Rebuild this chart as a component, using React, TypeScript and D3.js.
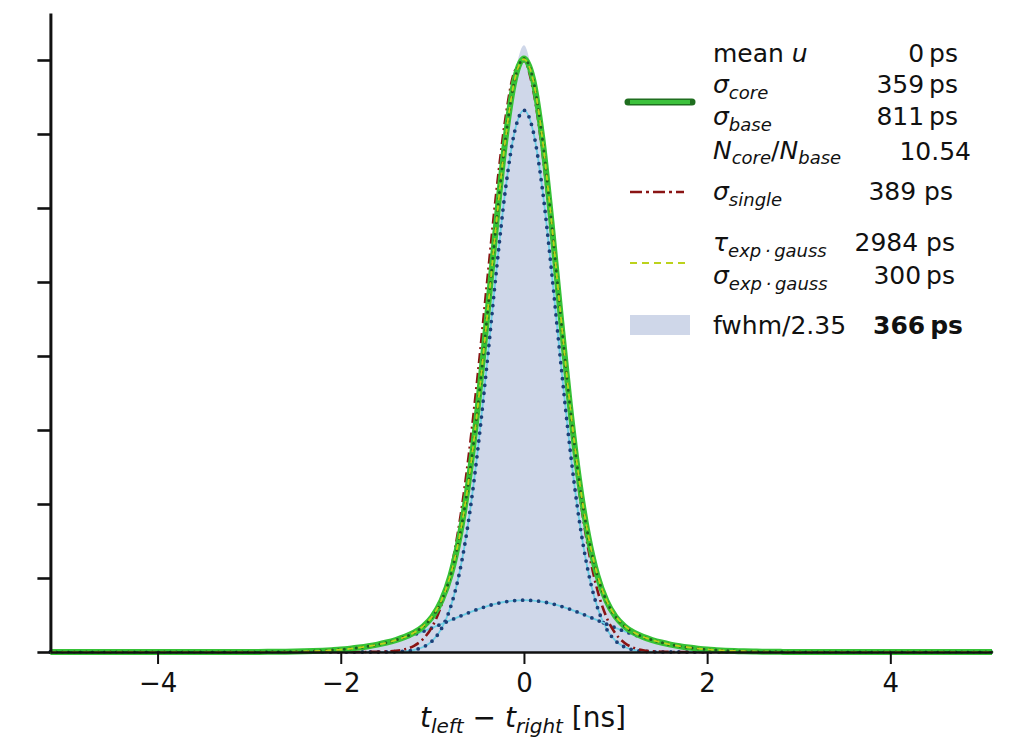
import React, { useRef, useEffect } from "react";
import * as d3 from "d3";

// sample positions in ns
const tGrid = [
  -3.0, -2.9, -2.8, -2.7, -2.6, -2.5, -2.4, -2.3, -2.2, -2.1, -2.0, -1.9, -1.8, -1.7, -1.6, -1.5,
  -1.4, -1.3, -1.2, -1.1, -1.0, -0.9, -0.8, -0.7, -0.6, -0.5, -0.4, -0.3, -0.2, -0.1, 0.0,
  0.1, 0.2, 0.3, 0.4, 0.5, 0.6, 0.7, 0.8, 0.9, 1.0, 1.1, 1.2, 1.3, 1.4, 1.5, 1.6, 1.7, 1.8,
  1.9, 2.0, 2.1, 2.2, 2.3, 2.4, 2.5, 2.6, 2.7, 2.8, 2.9, 3.0,
];

// histogram counts
const histCounts = [
  0, 1, 2, 3, 4, 6, 9, 12, 17, 24, 32, 44, 58, 77, 98, 125,
  160, 200, 255, 340, 470, 690, 1050, 1600, 2380, 3400, 4600, 5850, 6980, 7800, 8200,
  7760, 6930, 5790, 4520, 3330, 2320, 1560, 1030, 690, 480, 345, 262, 205, 163, 129, 101, 79, 61,
  46, 34, 25, 18, 13, 9, 6, 4, 3, 2, 1, 0,
];

// double gauss total
const totalFit = [
  1, 1, 2, 3, 4, 6, 9, 13, 18, 25, 33, 45, 60, 78, 100, 128,
  162, 204, 261, 346, 478, 694, 1041, 1576, 2344, 3355, 4555, 5817, 6947, 7736, 8020,
  7736, 6947, 5817, 4555, 3355, 2344, 1576, 1041, 694, 478, 346, 261, 204, 162, 128, 100, 78, 60,
  45, 33, 25, 18, 13, 9, 6, 4, 3, 2, 1, 1,
];

// core gauss component
const coreFit = [
  0, 0, 0, 0, 0, 0, 0, 0, 0, 0, 0, 0, 0, 0, 0, 1,
  4, 10, 27, 67, 151, 316, 611, 1094, 1812, 2776, 3935, 5163, 6268, 7041, 7320,
  7041, 6268, 5163, 3935, 2776, 1812, 1094, 611, 316, 151, 67, 27, 10, 4, 1, 0, 0, 0,
  0, 0, 0, 0, 0, 0, 0, 0, 0, 0, 0, 0,
];

// base gauss component
const baseFit = [
  1, 1, 2, 3, 4, 6, 9, 13, 18, 25, 33, 45, 60, 78, 100, 127,
  158, 194, 234, 279, 327, 378, 430, 482, 532, 579, 620, 654, 679, 695, 700,
  695, 679, 654, 620, 579, 532, 482, 430, 378, 327, 279, 234, 194, 158, 127, 100, 78, 60,
  45, 33, 25, 18, 13, 9, 6, 4, 3, 2, 1, 1,
];

// single gauss
const singleFit = [
  0, 0, 0, 0, 0, 0, 0, 0, 0, 0, 0, 0, 0, 1, 2, 6,
  15, 37, 84, 176, 346, 638, 1100, 1776, 2684, 3796, 5027, 6231, 7230, 7853, 7984,
  7598, 6768, 5643, 4405, 3218, 2201, 1409, 844, 473, 249, 122, 56, 24, 10, 4, 1, 0, 0,
  0, 0, 0, 0, 0, 0, 0, 0, 0, 0, 0, 0,
];

// exp * gauss
const expGaussFit = [
  0, 1, 1, 2, 3, 5, 8, 12, 17, 24, 32, 44, 59, 77, 99, 127,
  161, 203, 262, 350, 485, 702, 1050, 1585, 2350, 3360, 4560, 5820, 6950, 7740, 8010,
  7730, 6950, 5825, 4565, 3370, 2358, 1590, 1052, 703, 486, 352, 265, 206, 164, 130, 102, 80, 62,
  47, 35, 26, 19, 14, 10, 7, 5, 3, 2, 1, 1,
];

const xTicks = [-4, -2, 0, 2, 4];
const yTicks = [0, 1000, 2000, 3000, 4000, 5000, 6000, 7000, 8000];
const tRange = [-5.17, 5.11];

const FONT = "DejaVu Sans";

const App = () => {
  const xAxisRef = useRef(null);
  const yAxisRef = useRef(null);

  const x = d3.scaleLinear().domain(tRange).range([50.4, 992]);
  const y = d3.scaleLinear().domain([0, 8635]).range([652, 13]);

  const pts = (vals) => [
    [tRange[0], 0],
    ...tGrid.map((t, i) => [t, vals[i]]),
    [tRange[1], 0],
  ];

  const line = d3.line().x(d => x(d[0])).y(d => y(d[1])).curve(d3.curveMonotoneX);
  const area = d3.area().x(d => x(d[0])).y0(y(0)).y1(d => y(d[1])).curve(d3.curveMonotoneX);

  useEffect(() => {
    const gx = d3.select(xAxisRef.current);
    gx.selectAll("*").remove();
    gx.call(d3.axisBottom(x).tickValues(xTicks).tickSize(12).tickSizeOuter(0).tickPadding(10));
    gx.select(".domain").attr("stroke", "#111").attr("stroke-width", 2.6);
    gx.selectAll(".tick line").attr("stroke", "#111").attr("stroke-width", 2);
    gx.selectAll(".tick text")
      .attr("fill", "#111")
      .style("font-family", FONT)
      .style("font-size", "26px");

    const gy = d3.select(yAxisRef.current);
    gy.selectAll("*").remove();
    gy.call(d3.axisLeft(y).tickValues(yTicks).tickSize(13).tickSizeOuter(0).tickFormat(() => ""));
    gy.select(".domain").attr("stroke", "#111").attr("stroke-width", 3);
    gy.selectAll(".tick line").attr("stroke", "#111").attr("stroke-width", 2.6);
  }, []);

  const dottedBlue = (vals, key) => (
    <g key={key}>
      <path d={line(pts(vals))} fill="none" stroke="#6fcfe6" strokeWidth={1.8} />
      <path
        d={line(pts(vals))}
        fill="none"
        stroke="#1d3f78"
        strokeWidth={3.8}
        strokeLinecap="round"
        strokeDasharray="0 8"
      />
    </g>
  );

  const sub = (s, size = 18) => (
    <>
      <tspan fontSize={size} dy={6}>{s}</tspan>
      <tspan dy={-6}>{"\u200a"}</tspan>
    </>
  );

  const legendText = { fontFamily: FONT, fontSize: 25, fill: "#111" };

  return (
    <svg
      width={1013}
      height={751}
      style={{ position: "absolute", left: 0, top: 0, background: "#fff" }}
    >
      {/* histogram */}
      <path d={area(pts(histCounts))} fill="#cfd7e9" />

      {/* components */}
      {dottedBlue(coreFit, "core")}
      {dottedBlue(baseFit, "base")}

      {/* single gauss */}
      <path
        d={line(pts(singleFit))}
        fill="none"
        stroke="#8a1414"
        strokeWidth={2.6}
        strokeDasharray="10 4 2 4"
      />

      {/* double gauss */}
      <path d={line(pts(totalFit))} fill="none" stroke="#36c236" strokeWidth={6} />
      <path
        d={line(pts(totalFit))}
        fill="none"
        stroke="#1e5e1e"
        strokeWidth={3}
        strokeLinecap="round"
        strokeDasharray="0 6"
      />

      {/* exp gauss */}
      <path
        d={line(pts(expGaussFit))}
        fill="none"
        stroke="#bcd21c"
        strokeWidth={1.8}
        strokeDasharray="6 5"
      />

      <g ref={xAxisRef} transform={`translate(0,${y(0)})`} />
      <g ref={yAxisRef} transform={`translate(${x(tRange[0])},0)`} />

      {/* x label */}
      <text x={523} y={727} textAnchor="middle" style={{ fontFamily: FONT, fontSize: 28, fill: "#111" }}>
        <tspan fontStyle="italic">t</tspan>
        <tspan fontStyle="italic" fontSize={20} dy={6}>left</tspan>
        <tspan dy={-6}>{" \u2212 "}</tspan>
        <tspan fontStyle="italic">t</tspan>
        <tspan fontStyle="italic" fontSize={20} dy={6}>right</tspan>
        <tspan dy={-6}>{" [ns]"}</tspan>
      </text>

      {/* legend handles */}
      <line x1={628} x2={692} y1={102} y2={102} stroke="#1f6e1f" strokeWidth={7} strokeLinecap="round" />
      <line x1={630} x2={690} y1={102} y2={102} stroke="#3cc23c" strokeWidth={4} />
      <line x1={630} x2={684} y1={192} y2={192} stroke="#8a1414" strokeWidth={2.6} strokeDasharray="12 4 3 4" />
      <line x1={630} x2={690} y1={263} y2={263} stroke="#bcd21c" strokeWidth={2} strokeDasharray="7 5" />
      <rect x={630} y={315} width={60} height={20} fill="#cfd7e9" />

      {/* legend labels */}
      <g style={legendText}>
        <text x={713} y={62}>
          mean <tspan fontStyle="italic">u</tspan>
        </text>
        <text x={958} y={62} textAnchor="end">0{"\u2009"}ps</text>

        <text x={713} y={93} fontStyle="italic">
          σ{sub("core")}
        </text>
        <text x={958} y={93} textAnchor="end">359{"\u2009"}ps</text>

        <text x={713} y={125} fontStyle="italic">
          σ{sub("base")}
        </text>
        <text x={958} y={125} textAnchor="end">811{"\u2009"}ps</text>

        <text x={713} y={159}>
          <tspan fontStyle="italic">N</tspan>
          <tspan fontStyle="italic" fontSize={18} dy={5}>core</tspan>
          <tspan dy={-5}>/</tspan>
          <tspan fontStyle="italic">N</tspan>
          <tspan fontStyle="italic" fontSize={18} dy={5}>base</tspan>
        </text>
        <text x={971} y={160} textAnchor="end">10.54</text>

        <text x={713} y={200} fontStyle="italic">
          σ{sub("single")}
        </text>
        <text x={953} y={200} textAnchor="end">389 ps</text>

        <text x={713} y={251} fontStyle="italic">
          τ{sub("exp\u2009·\u2009gauss")}
        </text>
        <text x={955} y={251} textAnchor="end">2984 ps</text>

        <text x={713} y={284} fontStyle="italic">
          σ{sub("exp\u2009·\u2009gauss")}
        </text>
        <text x={955} y={284} textAnchor="end">300{"\u2009"}ps</text>

        <text x={713} y={334}>fwhm/2.35</text>
        <text x={963} y={334} textAnchor="end" fontWeight="bold">366{"\u2009"}ps</text>
      </g>
    </svg>
  );
};

export default App;
